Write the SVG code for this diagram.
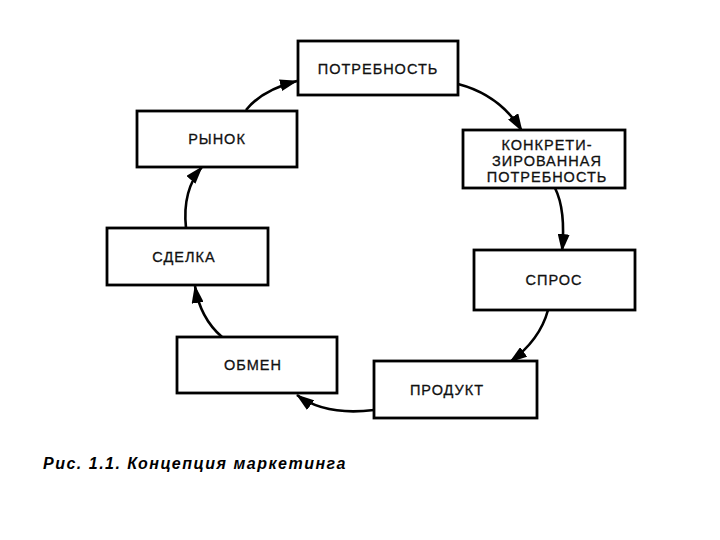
<svg xmlns="http://www.w3.org/2000/svg" width="720" height="540" viewBox="0 0 720 540">
<style>
.box{fill:#fff;stroke:#000;stroke-width:2.8}
.t{font-family:"Liberation Sans",Arial,sans-serif;font-size:14.5px;letter-spacing:1px;text-anchor:middle;fill:#111;stroke:#111;stroke-width:0.3}
.c{fill:none;stroke:#000;stroke-width:2.6}
.cap{font-family:"Liberation Sans",Arial,sans-serif;font-size:16px;font-weight:bold;font-style:italic;letter-spacing:1.5px;fill:#000}
</style>
<defs>
<marker id="ah" markerWidth="18" markerHeight="12" refX="17" refY="6" orient="auto" markerUnits="userSpaceOnUse">
<path d="M0,0 L18,6 L0,12 Z" fill="#000"/>
</marker>
</defs>
<rect width="720" height="540" fill="#fff"/>
<g id="connectors">
<path class="c" d="M246,110 Q262,90 297,81" marker-end="url(#ah)"/>
<path class="c" d="M458,84 Q500,95 522,131" marker-end="url(#ah)"/>
<path class="c" d="M555,188 Q566,210 562,251" marker-end="url(#ah)"/>
<path class="c" d="M548,310 Q540,340 510,362" marker-end="url(#ah)"/>
<path class="c" d="M374,410 Q325,416 297,395" marker-end="url(#ah)"/>
<path class="c" d="M222,337 Q200,318 195,286" marker-end="url(#ah)"/>
<path class="c" d="M186,228 Q182,190 202,167" marker-end="url(#ah)"/>
</g>
<g id="n-potrebnost">
<rect class="box" x="298" y="41" width="160" height="54"/>
<text class="t" x="378" y="74">ПОТРЕБНОСТЬ</text>
</g>
<g id="n-konkret">
<rect class="box" x="463" y="130" width="162" height="58"/>
<text class="t" x="547" y="150">КОНКРЕТИ-</text>
<text class="t" x="547" y="166">ЗИРОВАННАЯ</text>
<text class="t" x="547" y="182">ПОТРЕБНОСТЬ</text>
</g>
<g id="n-spros">
<rect class="box" x="474" y="250" width="161" height="60"/>
<text class="t" x="554" y="285">СПРОС</text>
</g>
<g id="n-produkt">
<rect class="box" x="374" y="361" width="163" height="57"/>
<text class="t" x="447" y="395">ПРОДУКТ</text>
</g>
<g id="n-obmen">
<rect class="box" x="177" y="337" width="160" height="56"/>
<text class="t" x="253" y="370">ОБМЕН</text>
</g>
<g id="n-sdelka">
<rect class="box" x="107" y="228" width="161" height="57"/>
<text class="t" x="184" y="262">СДЕЛКА</text>
</g>
<g id="n-rynok">
<rect class="box" x="137" y="111" width="160" height="56"/>
<text class="t" x="217" y="144">РЫНОК</text>
</g>
<text class="cap" x="43" y="469">Рис. 1.1. Концепция маркетинга</text>
</svg>
